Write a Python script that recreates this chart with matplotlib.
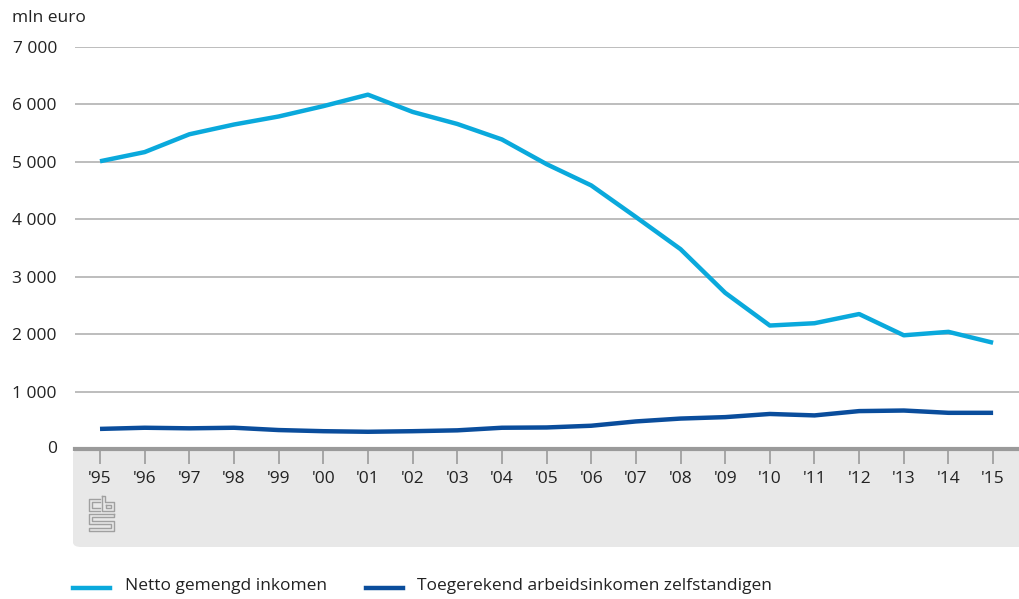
import matplotlib
matplotlib.use("Agg")
import matplotlib.pyplot as plt
from matplotlib.patches import FancyBboxPatch

jaren = ["'95", "'96", "'97", "'98", "'99", "'00", "'01", "'02", "'03", "'04", "'05",
         "'06", "'07", "'08", "'09", "'10", "'11", "'12", "'13", "'14", "'15"]
netto_gemengd = [5010, 5170, 5480, 5650, 5790, 5970, 6170, 5870, 5660, 5390, 4960,
                 4590, 4040, 3480, 2720, 2150, 2190, 2350, 1980, 2040, 1850]
toegerekend = [350, 370, 360, 370, 330, 310, 300, 310, 325, 370, 375,
               405, 480, 530, 555, 610, 585, 660, 670, 630, 630]
yticks = [0, 1000, 2000, 3000, 4000, 5000, 6000, 7000]
ylabels = ["0", "1 000", "2 000", "3 000", "4 000", "5 000", "6 000", "7 000"]

plt.rcParams['font.family'] = ['Open Sans', 'DejaVu Sans']
W, H = 1019, 599
fig = plt.figure(figsize=(W / 100, H / 100), dpi=100)

def fx(px):
    return px / W

def fy(py):
    return 1 - py / H

tekst = '#222222'
fs = 12.5

# grijs paneel onder de as
panel = FancyBboxPatch((fx(73), fy(547)), fx(1019 + 20) - fx(73), fy(449) - fy(547),
                       boxstyle="round,pad=0,rounding_size=0.008",
                       transform=fig.transFigure, facecolor='#e8e8e8', edgecolor='none', zorder=-5)
fig.patches.append(panel)

ax = fig.add_axes([fx(75), fy(449), fx(1019) - fx(75), fy(47) - fy(449)])
ax.set_facecolor('none')
x = list(range(len(jaren)))
licht = '#0aa9dc'
donker = '#0a4d9c'
ax.plot(x, netto_gemengd, color=licht, lw=3.2, solid_capstyle='butt', zorder=3)
ax.plot(x, toegerekend, color=donker, lw=3.2, solid_capstyle='butt', zorder=3)

ax.set_xlim(-0.56, 20.58)
ax.set_ylim(0, 7000)
ax.set_yticks(yticks[1:])
ax.set_yticklabels(ylabels[1:])
ax.yaxis.grid(True, color='#bdbdbd', lw=1.4)
ax.set_axisbelow(True)
for s in ['top', 'right', 'left']:
    ax.spines[s].set_visible(False)
ax.spines['bottom'].set_color('#9a9a9a')
ax.spines['bottom'].set_linewidth(3)
ax.tick_params(axis='y', length=0, pad=13, labelsize=fs, labelcolor=tekst)
ax.set_xticks(x)
ax.set_xticklabels(jaren)
ax.tick_params(axis='x', length=11, width=1.2, color='#9a9a9a', pad=5,
               labelsize=fs, labelcolor=tekst)
fig.text(fx(57), fy(449), "0", ha='right', va='center', fontsize=fs, color=tekst)
fig.text(fx(12), fy(18), "mln euro", ha='left', va='center', fontsize=fs, color=tekst)

# cbs logo, eenvoudig nagetekend in pixelcoordinaten
lc = '#a0a0a0'
def lijn(pts):
    fig.add_artist(plt.Line2D([fx(p[0]) for p in pts], [fy(p[1]) for p in pts],
                              color=lc, lw=1.0))
# c
lijn([(100, 499), (89, 499), (89, 511), (100, 511)])
lijn([(100, 502), (92, 502), (92, 508), (100, 508)])
# b
lijn([(102, 496), (102, 511), (114, 511), (114, 502), (105, 502), (105, 496), (102, 496)])
lijn([(106, 505), (111, 505), (111, 508), (106, 508), (106, 505)])
# s
lijn([(114, 514), (89, 514), (89, 524), (111, 524), (111, 528), (89, 528), (89, 531), (114, 531),
      (114, 521), (92, 521), (92, 517), (114, 517), (114, 514)])

# legenda
fig.add_artist(plt.Line2D([fx(73), fx(110)], [fy(588), fy(588)], color=licht, lw=3.2))
fig.text(fx(125), fy(586), "Netto gemengd inkomen", ha='left', va='center', fontsize=fs, color=tekst)
fig.add_artist(plt.Line2D([fx(366), fx(403)], [fy(588), fy(588)], color=donker, lw=3.2))
fig.text(fx(417), fy(586), "Toegerekend arbeidsinkomen zelfstandigen", ha='left', va='center',
         fontsize=fs, color=tekst)

fig.savefig('out.png', dpi=100)
